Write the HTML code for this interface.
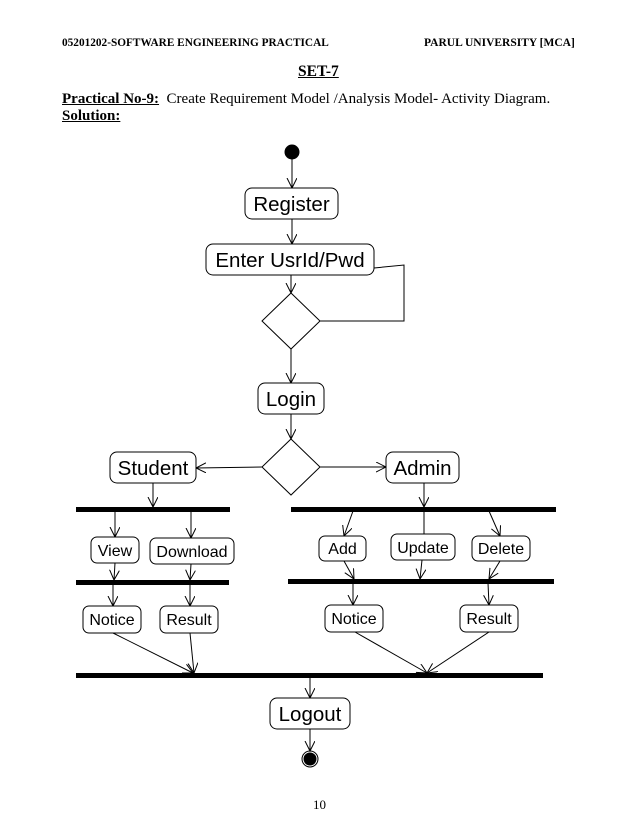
<!DOCTYPE html>
<html><head><meta charset="utf-8"><style>
html,body{margin:0;padding:0;background:#fff;}
body{width:638px;height:826px;position:relative;overflow:hidden;}
.t{position:absolute;font-family:"Liberation Serif",serif;color:#000;white-space:nowrap;}
</style></head><body>
<div class="t" style="left:62px;top:37px;font-size:11.3px;font-weight:bold;">05201202-SOFTWARE ENGINEERING PRACTICAL</div>
<div class="t" style="left:424px;top:37px;font-size:11.5px;font-weight:bold;">PARUL UNIVERSITY [MCA]</div>
<div class="t" style="left:298px;top:63px;font-size:15.5px;font-weight:bold;text-decoration:underline;">SET-7</div>
<div class="t" style="left:62px;top:91px;font-size:15px;"><b><u>Practical No-9:</u></b>&nbsp; Create Requirement Model /Analysis Model- Activity Diagram.</div>
<div class="t" style="left:62px;top:108px;font-size:15px;"><b><u>Solution:</u></b></div>
<div class="t" style="left:313px;top:797px;font-size:13px;">10</div>
<svg width="638" height="826" style="position:absolute;left:0;top:0" font-family="Liberation Sans, sans-serif">
<defs><marker id="a" markerWidth="12" markerHeight="12" refX="10" refY="5" orient="auto" markerUnits="userSpaceOnUse"><polyline points="0,0 10,5 0,10" fill="none" stroke="#000" stroke-width="1"/></marker></defs>
<g stroke="#000" stroke-width="1" fill="none">
<circle cx="292" cy="152" r="7" fill="#000"/>
<line x1="292" y1="159" x2="292" y2="188" marker-end="url(#a)"/>
<rect x="245" y="188" width="93" height="31" rx="7" fill="#fff"/>
<line x1="292" y1="219" x2="292" y2="244" marker-end="url(#a)"/>
<rect x="206" y="244" width="168" height="31" rx="7" fill="#fff"/>
<line x1="291" y1="275" x2="291" y2="293" marker-end="url(#a)"/>
<polyline points="374,268 404,265 404,321 320,321"/>
<polygon points="291,293 320,321 291,349 262,321" fill="#fff"/>
<line x1="291" y1="349" x2="291" y2="383" marker-end="url(#a)"/>
<rect x="258" y="383" width="66" height="31" rx="7" fill="#fff"/>
<line x1="291" y1="414" x2="291" y2="439" marker-end="url(#a)"/>
<polygon points="291,439 320,467 291,495 262,467" fill="#fff"/>
<line x1="262" y1="467" x2="196" y2="468" marker-end="url(#a)"/>
<line x1="320" y1="467" x2="386" y2="467" marker-end="url(#a)"/>
<rect x="110" y="452" width="86" height="31" rx="7" fill="#fff"/>
<rect x="386" y="452" width="73" height="31" rx="7" fill="#fff"/>
<line x1="153" y1="483" x2="153" y2="507" marker-end="url(#a)"/>
<line x1="424" y1="483" x2="424" y2="507" marker-end="url(#a)"/>
<line x1="115" y1="511" x2="115" y2="537" marker-end="url(#a)"/>
<line x1="191" y1="511" x2="191" y2="538" marker-end="url(#a)"/>
<rect x="91" y="537" width="48" height="26" rx="6" fill="#fff"/>
<rect x="150" y="538" width="84" height="26" rx="6" fill="#fff"/>
<line x1="115" y1="563" x2="114" y2="580" marker-end="url(#a)"/>
<line x1="191" y1="564" x2="190" y2="580" marker-end="url(#a)"/>
<line x1="113" y1="584" x2="113" y2="606" marker-end="url(#a)"/>
<line x1="190" y1="584" x2="190" y2="606" marker-end="url(#a)"/>
<rect x="83" y="606" width="58" height="27" rx="6" fill="#fff"/>
<rect x="160" y="606" width="58" height="27" rx="6" fill="#fff"/>
<line x1="113" y1="633" x2="193" y2="673" marker-end="url(#a)"/>
<line x1="190" y1="633" x2="194" y2="673" marker-end="url(#a)"/>
<line x1="353" y1="511" x2="344" y2="536" marker-end="url(#a)"/>
<line x1="424" y1="511" x2="424" y2="534"/>
<line x1="489" y1="511" x2="500" y2="536" marker-end="url(#a)"/>
<rect x="319" y="536" width="47" height="25" rx="6" fill="#fff"/>
<rect x="391" y="534" width="64" height="26" rx="6" fill="#fff"/>
<rect x="472" y="536" width="58" height="25" rx="6" fill="#fff"/>
<line x1="344" y1="561" x2="354" y2="579" marker-end="url(#a)"/>
<line x1="422" y1="560" x2="420" y2="579" marker-end="url(#a)"/>
<line x1="500" y1="561" x2="489" y2="579" marker-end="url(#a)"/>
<line x1="353" y1="583" x2="353" y2="605" marker-end="url(#a)"/>
<line x1="488" y1="583" x2="489" y2="605" marker-end="url(#a)"/>
<rect x="325" y="605" width="58" height="27" rx="6" fill="#fff"/>
<rect x="460" y="605" width="58" height="27" rx="6" fill="#fff"/>
<line x1="355" y1="632" x2="427" y2="673" marker-end="url(#a)"/>
<line x1="489" y1="632" x2="427" y2="673" marker-end="url(#a)"/>
<line x1="310" y1="677" x2="310" y2="698" marker-end="url(#a)"/>
<rect x="270" y="698" width="80" height="31" rx="7" fill="#fff"/>
<line x1="310" y1="729" x2="310" y2="751" marker-end="url(#a)"/>
<circle cx="310" cy="759" r="8"/>
<circle cx="310" cy="759" r="6" fill="#000"/>
</g>
<g fill="#000">
<rect x="76" y="507" width="154" height="5"/>
<rect x="291" y="507" width="265" height="5"/>
<rect x="76" y="580" width="153" height="5"/>
<rect x="288" y="579" width="266" height="5"/>
<rect x="76" y="673" width="467" height="5"/>
</g>
<g font-size="20.5" text-anchor="middle" fill="#000">
<text x="291.5" y="211">Register</text>
<text x="290" y="267">Enter UsrId/Pwd</text>
<text x="291" y="406">Login</text>
<text x="153" y="475">Student</text>
<text x="422.5" y="475">Admin</text>
<text x="310" y="721">Logout</text>
</g>
<g font-size="16" text-anchor="middle" fill="#000">
<text x="115" y="556">View</text>
<text x="192" y="557">Download</text>
<text x="342.5" y="554">Add</text>
<text x="423" y="553">Update</text>
<text x="501" y="554">Delete</text>
<text x="112" y="625">Notice</text>
<text x="189" y="625">Result</text>
<text x="354" y="624">Notice</text>
<text x="489" y="624">Result</text>
</g>
</svg>
</body></html>
